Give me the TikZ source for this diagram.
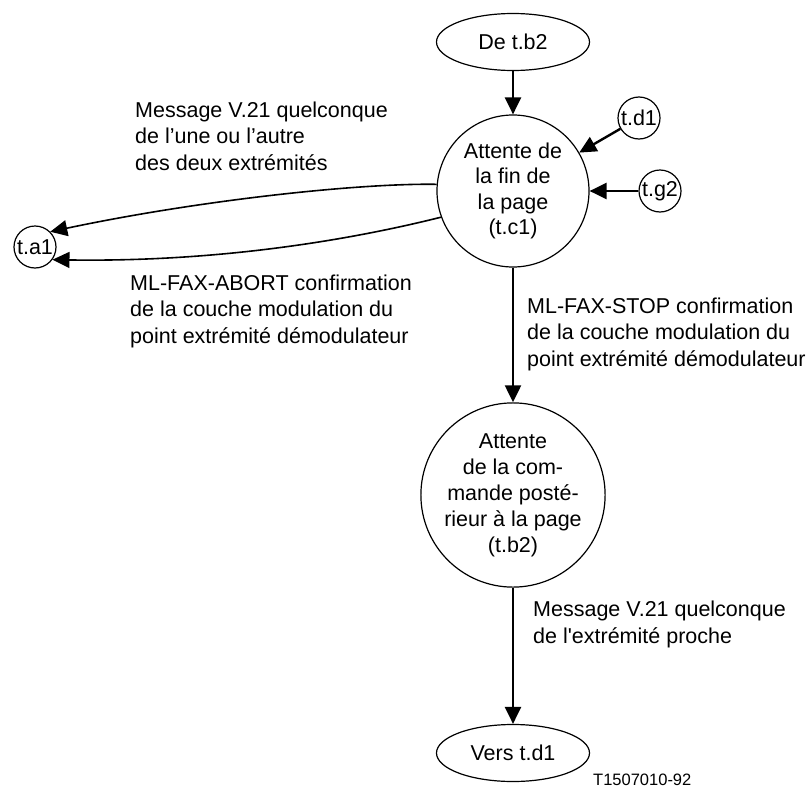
\documentclass[tikz,border=0pt]{standalone}
\usepackage{fontspec}
\setmainfont{Liberation Sans}[Ligatures=TeXOff]
\usetikzlibrary{arrows.meta,shapes.geometric}
\begin{document}
\begin{tikzpicture}[x=1pt,y=-1pt,
  every node/.style={font=\fontsize{21.5}{26.5}\selectfont, inner sep=0pt},
  state/.style={circle, draw, line width=1.2pt, minimum size=152pt, align=center},
  port/.style={circle, draw, line width=1.2pt, minimum size=42pt},
  term/.style={ellipse, draw, line width=1.2pt, minimum width=153pt, minimum height=57pt},
  lbl/.style={anchor=base west, align=left},
  tip/.style={-{Triangle[length=17pt,width=16pt]}},
  flow/.style={tip, line width=2.4pt},
  curved/.style={tip, line width=1.6pt},
]
\useasboundingbox (0,0) rectangle (809,787);

% states and terminals
\node[term]  (t1) at (513,42)  {De t.b2};
\node[state, font=\fontsize{21.5}{25.5}\selectfont] (c1) at (513,191) {Attente de\\la fin de\\la page\\(t.c1)};
\node[port]  (d1) at (639,118) {t.d1};
\node[port]  (g2) at (660,191) {t.g2};
\node[port]  (a1) at (35,247)  {t.a1};
\node[state, font=\fontsize{21.5}{26}\selectfont] (c2) at (513,495) {Attente\\de la com-\\mande posté-\\rieur à la page\\(t.b2)};
\node[term]  (t2) at (513,753) {Vers t.d1};

% transitions
\draw[flow] (t1) -- (c1);
\draw[flow] (d1) -- (c1);
\draw[flow] (g2) -- (c1);
\draw[flow] (c1) -- (c2);
\draw[flow] (c2) -- (t2);
\draw[curved] (c1.175) .. controls (360,183) and (200,200) .. (a1.45);
\draw[curved] (c1.200) .. controls (330,245) and (200,262) .. (a1.-36);

% transition labels (base = last line)
\node[lbl] (m1) at (135,170) {Message V.21 quelconque\\de l’une ou l’autre\\des deux extrémités};
\node[lbl] (m2) at (130,343) {ML-FAX-ABORT confirmation\\de la couche modulation du\\point extrémité démodulateur};
\node[lbl] (m3) at (527,366) {ML-FAX-STOP confirmation\\de la couche modulation du\\point extrémité démodulateur};
\node[lbl] (m4) at (533,643) {Message V.21 quelconque\\de l'extrémité proche};
\node[anchor=base west, font=\fontsize{16.5}{20}\selectfont] (ref) at (593,785) {T1507010-92};
\end{tikzpicture}
\end{document}
